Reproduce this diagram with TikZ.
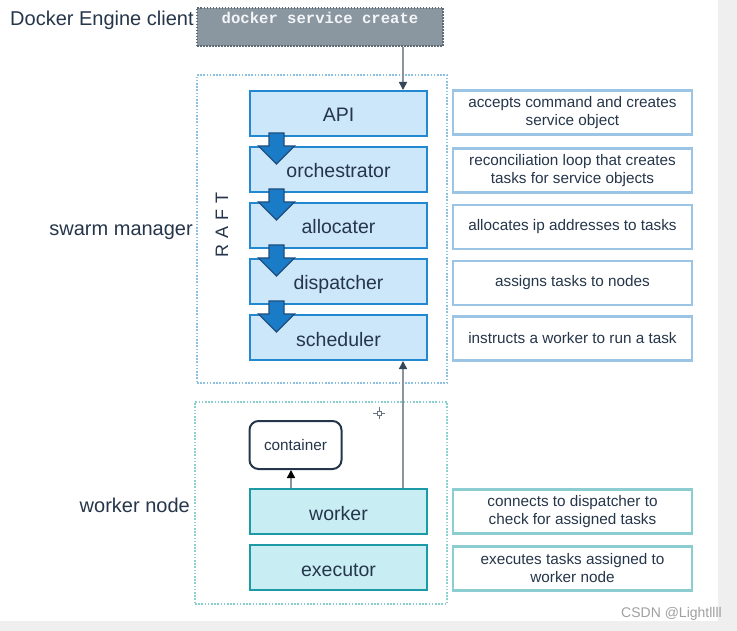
\documentclass[tikz,border=0pt]{standalone}
\usepackage{fontspec}
\setmainfont{Liberation Sans}
\setmonofont{Liberation Mono}
\usetikzlibrary{arrows.meta,calc}
\definecolor{txt}{HTML}{26364A}
\definecolor{mgrfill}{HTML}{CCE6FA}
\definecolor{mgrline}{HTML}{2288D0}
\definecolor{bigfill}{HTML}{1A7CC7}
\definecolor{bigline}{HTML}{1F4E7E}
\definecolor{wrkfill}{HTML}{C8EEF4}
\definecolor{wrkline}{HTML}{1C9AA6}
\definecolor{zoneblue}{HTML}{8CC0E0}
\definecolor{zoneteal}{HTML}{8CCFCF}
\definecolor{descblue}{HTML}{9CC4E4}
\definecolor{descteal}{HTML}{8CCDD2}
\definecolor{clientfill}{HTML}{8A97A1}
\definecolor{clientline}{HTML}{5E6A74}
\definecolor{connline}{HTML}{8A949C}
\definecolor{tipcol}{HTML}{34465A}
\definecolor{strip}{HTML}{EFEFF0}
\definecolor{wmark}{HTML}{A0A0A0}
\tikzset{
  boxlabel/.style={font=\fontsize{19.5}{23}\selectfont, text=txt, text height=19pt, text depth=2pt},
  mgrbox/.style={draw=mgrline, fill=mgrfill, line width=2pt, minimum width=177pt, minimum height=45pt, inner sep=0pt, boxlabel},
  wrkbox/.style={draw=wrkline, fill=wrkfill, line width=2pt, minimum width=177pt, minimum height=45pt, inner sep=0pt, boxlabel},
  descbox/.style={draw=descblue, fill=white, line width=2.2pt, minimum width=239pt, minimum height=44pt, inner sep=0pt, align=center, text=txt, font=\fontsize{15.3}{18}\selectfont},
  descw/.style={descbox, draw=descteal},
  zone/.style={draw=#1, line width=1.6pt, dash pattern=on 1.6pt off 1.6pt, inner sep=0pt},
  sidelabel/.style={font=\fontsize{20}{24}\selectfont, text=txt, inner sep=0pt},
  bigarrow/.style={fill=bigfill, draw=bigline, line width=1.2pt, line join=miter},
  conn/.style={draw=connline, line width=1.5pt, -{Triangle[length=8pt,width=8pt,color=tipcol]}},
  connk/.style={draw=connline, line width=1.5pt, -{Triangle[length=8pt,width=8pt,color=black]}},
}
\begin{document}
\begin{tikzpicture}[x=1pt,y=-1pt]
\useasboundingbox (0,0) rectangle (737,631);
\fill[white] (0,0) rectangle (737,631);
\fill[strip] (718,0) rectangle (737,631);
\fill[strip] (0,621) rectangle (737,631);

% zones
\node[zone=zoneblue, minimum width=250pt, minimum height=308pt] (swarm) at (322,229) {};
\node[zone=zoneteal, minimum width=252pt, minimum height=202pt] (wzone) at (321,503) {};

% client
\node[draw=clientline, fill=clientfill, line width=1.2pt, dash pattern=on 1.5pt off 1.5pt, minimum width=246pt, minimum height=38pt, inner sep=0pt] (client) at (320,27) {};
\node[font=\ttfamily\bfseries\fontsize{15.6}{18}\selectfont, text=white!90!clientfill, inner sep=0pt] (cmd) at (320,18) {docker service create};

% side labels
\node[sidelabel, anchor=west] (dec) at (10,20) {Docker Engine client};
\node[sidelabel, anchor=east] (sm) at (193,232) {swarm manager};
\node[sidelabel, anchor=east] (wn) at (190,505) {worker node};
\node[font=\fontsize{18}{20}\selectfont, text=txt, rotate=90, inner sep=0pt] (raft) at (222,225) {R\hspace{6pt}A\hspace{6pt}F\hspace{6pt}T};

% manager boxes
\node[mgrbox] (api)   at (338.5,113.5) {API};
\node[mgrbox] (orch)  at (338.5,169.5) {orchestrator};
\node[mgrbox] (alloc) at (338.5,225.5) {allocater};
\node[mgrbox] (disp)  at (338.5,281.5) {dispatcher};
\node[mgrbox] (sched) at (338.5,337.5) {scheduler};

% big arrows
\foreach \n in {orch,alloc,disp,sched}{
  \draw[bigarrow] ([shift={(20,-13)}]\n.north west) -- ++(15,0) -- ++(0,13) -- ++(10.5,0) -- ++(-18,18) -- ++(-18,-18) -- ++(10.5,0) -- cycle;
}

% descriptions
\node[descbox] (dapi)   at (572.5,112.5) {accepts command and creates\\service object};
\node[descbox] (dorch)  at (572.5,170.5) {reconciliation loop that creates\\tasks for service objects};
\node[descbox] (dalloc) at (572.5,227) {allocates ip addresses to tasks};
\node[descbox] (ddisp)  at (572.5,283) {assigns tasks to nodes};
\node[descbox] (dsched) at (572.5,338.5) {instructs a worker to run a task};

% worker side
\node[draw=txt, fill=white, line width=2pt, rounded corners=9pt, minimum width=92pt, minimum height=48pt, inner sep=0pt, text=txt, font=\fontsize{15.3}{18}\selectfont] (container) at (295.5,445) {container};
\node[wrkbox] (worker) at (338.5,511.5) {worker};
\node[wrkbox] (exec)   at (338.5,567.5) {executor};
\node[descw] (dworker) at (572.5,511.5) {connects to dispatcher to\\check for assigned tasks};
\node[descw] (dexec)   at (572.5,568.5) {executes tasks assigned to\\worker node};

% connectors
\coordinate (xa) at (403,0);
\coordinate (xc) at (291,0);
\draw[conn] (client.south -| xa) -- (api.north -| xa);
\draw[conn] (worker.north -| xa) -- (sched.south -| xa);
\draw[connk] (worker.north -| xc) -- (container.south -| xc);

% cursor mark
\coordinate (cur) at (379,413);
\draw[txt!70, line width=0.6pt] ($(cur)+(-6,0)$) -- ($(cur)+(6,0)$) ($(cur)+(0,-6)$) -- ($(cur)+(0,6)$);
\draw[txt!70, fill=white, line width=0.6pt] ($(cur)+(-1.8,-1.8)$) rectangle ($(cur)+(1.8,1.8)$);

% watermark
\node[anchor=east, text=wmark, font=\fontsize{14}{16}\selectfont, inner sep=0pt] (wm) at (722,614) {CSDN @Lightllll};
\end{tikzpicture}
\end{document}
